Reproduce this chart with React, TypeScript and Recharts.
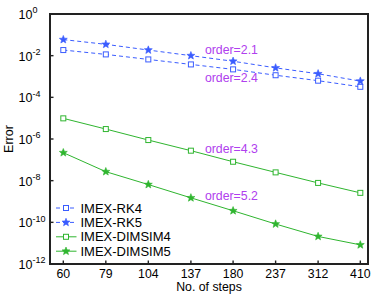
import React from 'react';
import { LineChart, Line, XAxis, YAxis, ReferenceDot, ReferenceArea } from 'recharts';

// ---- data ----
const steps = [60, 79, 104, 137, 180, 237, 312, 410];
const rk4 = [1.86e-2, 1.15e-2, 6.6e-3, 3.8e-3, 2.2e-3, 1.15e-3, 6.3e-4, 3.2e-4];
const rk5 = [5.9e-2, 3.5e-2, 1.86e-2, 1.0e-2, 5.4e-3, 2.6e-3, 1.35e-3, 6.0e-4];
const dimsim4 = [9.8e-6, 3.0e-6, 8.9e-7, 2.75e-7, 8.1e-8, 2.5e-8, 7.8e-9, 2.6e-9];
const dimsim5 = [2.2e-7, 2.7e-8, 6.5e-9, 1.5e-9, 3.6e-10, 8.3e-11, 2.1e-11, 8.3e-12];
const yTicks = [1e-12, 1e-10, 1e-8, 1e-6, 1e-4, 1e-2, 1];
const seriesNames = ['IMEX-RK4', 'IMEX-RK5', 'IMEX-DIMSIM4', 'IMEX-DIMSIM5'];
const annotations = [
  { label: 'order=2.1', x: 150, y: 1.86e-2 },
  { label: 'order=2.4', x: 150, y: 8.5e-4 },
  { label: 'order=4.3', x: 150, y: 3.3e-7 },
  { label: 'order=5.2', x: 150, y: 2.0e-9 },
];

const data = steps.map((s, i) => ({
  steps: s,
  rk4: rk4[i],
  rk5: rk5[i],
  dimsim4: dimsim4[i],
  dimsim5: dimsim5[i],
}));

// ---- styles ----
const FONT = '"Liberation Sans", Arial, Helvetica, sans-serif';
const INK = '#222222';
const BLUE = '#3a5cff';
const GREEN = '#2fb52f';
const PURPLE = '#b040ee';
const W = 374;
const H = 296;
const PL = 50;
const PT = 14;
const PR = 6;
const PB = 32;
const PW = W - PL - PR;
const PH = H - PT - PB;
const X_DOMAIN = [55.05, 430.9];
const Y_DOMAIN = [1e-12, 1];
const FRAME_W = 2;
const TICK_W = 1.4;
const TICK_LEN = 3.5;

const series = [
  { key: 'rk4', color: BLUE, dash: '4 3', marker: 'square' },
  { key: 'rk5', color: BLUE, dash: '4 3', marker: 'star' },
  { key: 'dimsim4', color: GREEN, dash: undefined, marker: 'square' },
  { key: 'dimsim5', color: GREEN, dash: undefined, marker: 'star' },
];

const starPoints = (cx: number, cy: number, ro: number, ri: number) => {
  const pts: string[] = [];
  for (let i = 0; i < 10; i++) {
    const r = i % 2 === 0 ? ro : ri;
    const a = -Math.PI / 2 + (i * Math.PI) / 5;
    pts.push(`${cx + r * Math.cos(a)},${cy + r * Math.sin(a)}`);
  }
  return pts.join(' ');
};

const Marker = ({ cx, cy, color, marker }: any) => {
  if (cx == null || cy == null) return null;
  if (marker === 'star') {
    return <polygon points={starPoints(cx, cy, 4.2, 1.8)} fill={color} stroke={color} strokeWidth={0.6} />;
  }
  return <rect x={cx - 2.5} y={cy - 2.5} width={5} height={5} fill="#fff" stroke={color} strokeWidth={1} />;
};

const YTick = ({ y, payload }: any) => {
  const exp = Math.round(Math.log10(payload.value));
  return (
    <g>
      <rect x={PL} y={y - TICK_W / 2} width={TICK_LEN} height={TICK_W} fill={INK} />
      <text x={18.5} y={y + 5} fontSize={12.5} fontFamily={FONT} fill="#000">
        10
        <tspan dy={-5.6} fontSize={9}>{exp}</tspan>
      </text>
    </g>
  );
};

const YTickRight = ({ y }: any) => (
  <rect x={PL + PW - TICK_LEN} y={y - TICK_W / 2} width={TICK_LEN} height={TICK_W} fill={INK} />
);

const XTick = ({ x, payload }: any) => (
  <g>
    <rect x={x - TICK_W / 2} y={PT + PH - TICK_LEN} width={TICK_W} height={TICK_LEN} fill={INK} />
    <text x={x} y={PT + PH + 14} textAnchor="middle" fontSize={12.3} fontFamily={FONT} fill="#000">
      {payload.value}
    </text>
  </g>
);

const XTickTop = ({ x }: any) => (
  <rect x={x - TICK_W / 2} y={PT} width={TICK_W} height={TICK_LEN} fill={INK} />
);

const LegendBox = () => {
  const rowH = 14.4;
  return (
    <svg width={130} height={62} style={{ display: 'block', overflow: 'visible' }}>
      {series.map((s, i) => {
        const cy = 8 + i * rowH;
        return (
          <g key={s.key}>
            <line x1={2} x2={22.5} y1={cy} y2={cy} stroke={s.color} strokeDasharray={s.dash} strokeWidth={1} />
            <Marker cx={12} cy={cy} color={s.color} marker={s.marker} />
            <text x={26.5} y={cy + 4.6} fontSize={13} fontFamily={FONT} fill="#000">
              {seriesNames[i]}
            </text>
          </g>
        );
      })}
    </svg>
  );
};

export default function App() {
  return (
    <div style={{ position: 'absolute', left: 0, top: 0, width: W, height: H, background: '#fff' }}>
      <LineChart width={W} height={H} data={data} margin={{ top: PT, right: PR, bottom: 0, left: 0 }}>
        <XAxis
          dataKey="steps"
          type="number"
          scale="log"
          domain={X_DOMAIN}
          allowDataOverflow
          ticks={steps}
          height={PB}
          tickLine={false}
          tick={<XTick />}
          axisLine={{ stroke: INK, strokeWidth: FRAME_W }}
          label={() => (
            <text x={PL + PW / 2} y={PT + PH + 27} textAnchor="middle" fontSize={12.3} fontFamily={FONT} fill="#000">
              No. of steps
            </text>
          )}
        />
        <XAxis
          xAxisId="top"
          orientation="top"
          dataKey="steps"
          type="number"
          scale="log"
          domain={X_DOMAIN}
          allowDataOverflow
          ticks={steps}
          height={0}
          tickLine={false}
          tick={<XTickTop />}
          axisLine={{ stroke: INK, strokeWidth: FRAME_W }}
        />
        <YAxis
          type="number"
          scale="log"
          domain={Y_DOMAIN}
          allowDataOverflow
          ticks={yTicks}
          width={PL}
          tickLine={false}
          tick={<YTick />}
          axisLine={{ stroke: INK, strokeWidth: FRAME_W }}
          label={() => (
            <text
              x={13}
              y={PT + PH / 2}
              transform={`rotate(-90, 13, ${PT + PH / 2})`}
              textAnchor="middle"
              fontSize={12.5}
              fontFamily={FONT}
              fill="#000"
            >
              Error
            </text>
          )}
        />
        <YAxis
          yAxisId="right"
          orientation="right"
          type="number"
          scale="log"
          domain={Y_DOMAIN}
          allowDataOverflow
          ticks={yTicks}
          width={0}
          tickLine={false}
          tick={<YTickRight />}
          axisLine={{ stroke: INK, strokeWidth: FRAME_W }}
        />
        <ReferenceArea
          x1={X_DOMAIN[0]}
          x2={X_DOMAIN[1]}
          y1={Y_DOMAIN[0]}
          y2={Y_DOMAIN[1]}
          fill="#ffffff"
          fillOpacity={0}
          stroke={INK}
          strokeWidth={FRAME_W}
          ifOverflow="visible"
        />
        {series.map((s, i) => (
          <Line
            key={s.key}
            type="linear"
            dataKey={s.key}
            name={seriesNames[i]}
            stroke={s.color}
            strokeWidth={1}
            strokeDasharray={s.dash}
            isAnimationActive={false}
            dot={(p: any) => <Marker key={`${s.key}-${p.index}`} cx={p.cx} cy={p.cy} color={s.color} marker={s.marker} />}
            activeDot={false}
          />
        ))}
        {annotations.map((a) => (
          <ReferenceDot
            key={a.label}
            x={a.x}
            y={a.y}
            r={0}
            isFront
            shape={(p: any) => (
              <text x={p.cx} y={p.cy + 4.3} fontSize={12.3} fontFamily={FONT} fill={PURPLE}>
                {a.label}
              </text>
            )}
          />
        ))}
      </LineChart>
      <div
        style={{
          position: 'absolute',
          left: PL - 1,
          top: PT - 1,
          width: PW,
          height: PH,
          border: `1.5px solid ${INK}`,
          pointerEvents: 'none',
          boxSizing: 'content-box',
        }}
      />
      <div style={{ position: 'absolute', left: 54, top: 199.5, width: 130, height: 62 }}>
        <LegendBox />
      </div>
    </div>
  );
}
